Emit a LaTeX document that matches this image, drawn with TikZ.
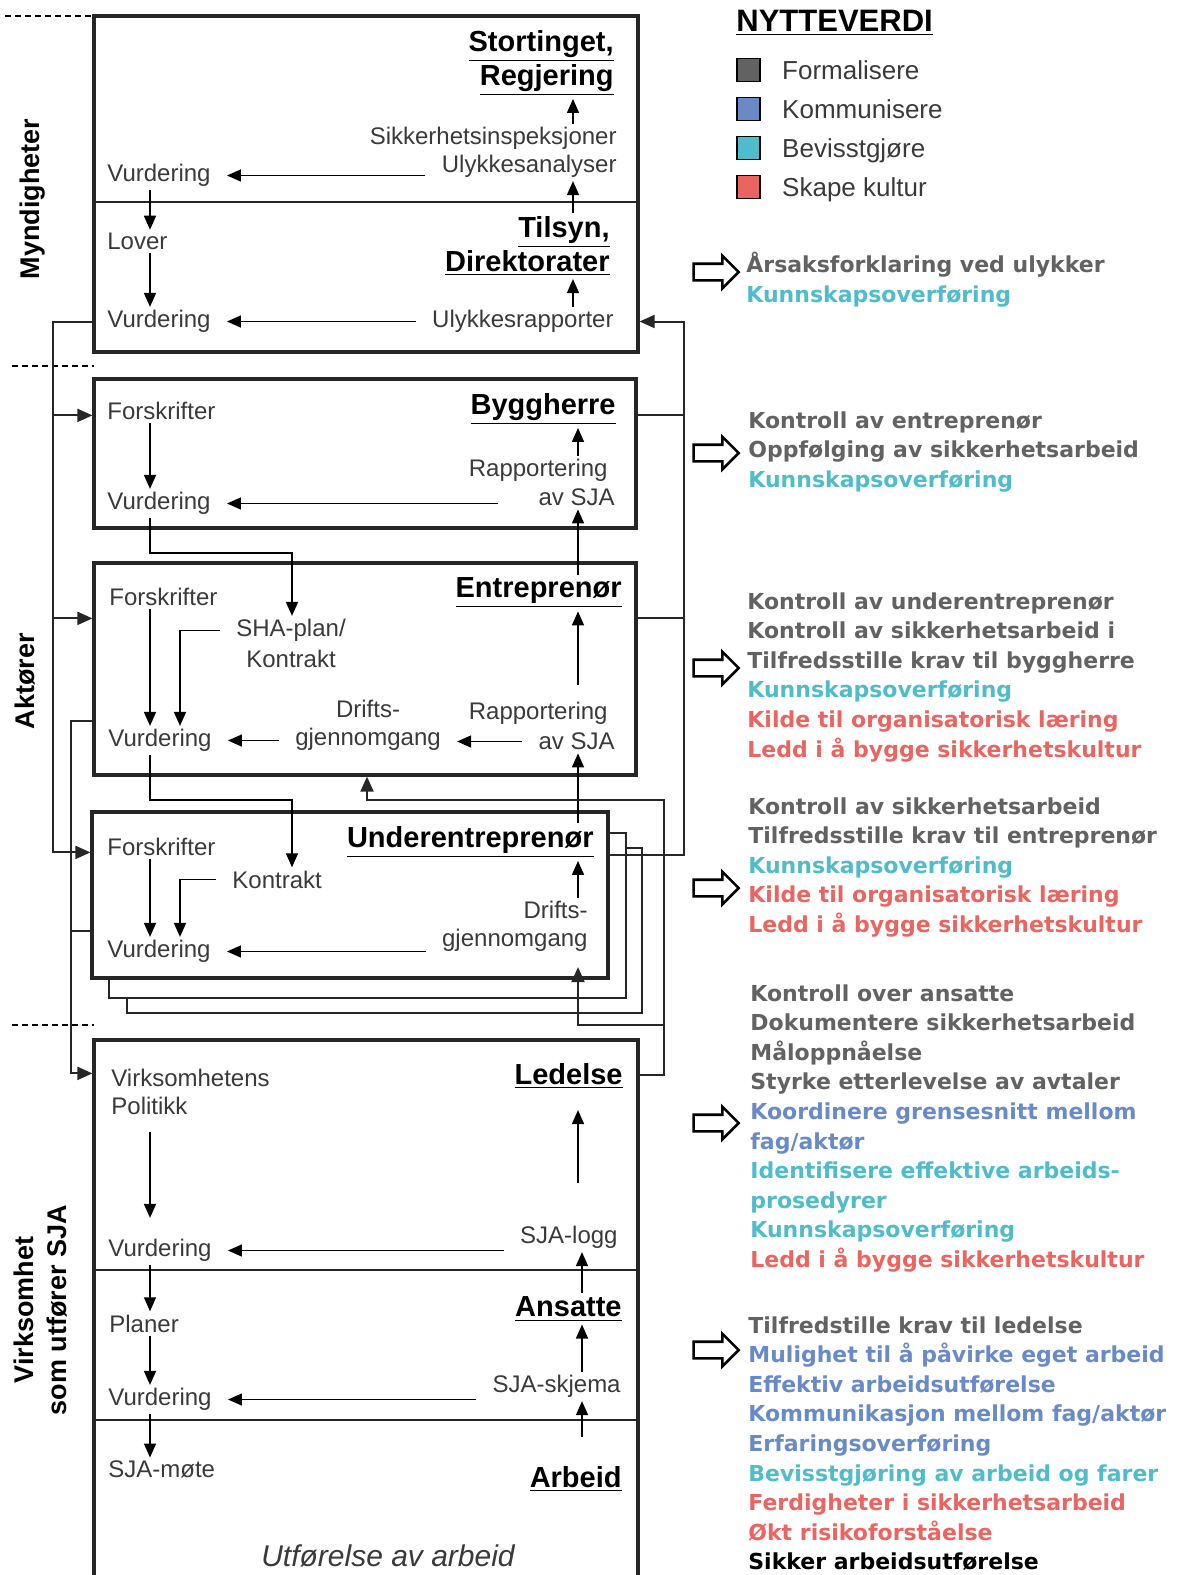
\documentclass[tikz,border=0pt]{standalone}
\usepackage{fontspec}
\setmainfont{Liberation Sans}
\newfontfamily\benefitfont{DejaVu Sans}
\usetikzlibrary{arrows.meta,positioning,calc,shapes.arrows}
\definecolor{valGray}{RGB}{98,98,98}
\definecolor{valBlue}{RGB}{104,138,198}
\definecolor{valTeal}{RGB}{78,188,202}
\definecolor{valRed}{RGB}{234,100,96}
\definecolor{inkDark}{RGB}{58,58,58}
\tikzset{
  frame/.style={draw=black!85,line width=1.6pt,fill=white,inner sep=0pt},
  frame shadow/.style={draw=black!85,line width=1pt,fill=white,inner sep=0pt},
  divider/.style={draw=black!85,line width=1pt},
  flow text/.style={text=inkDark,font=\fontsize{12}{14}\selectfont,inner xsep=8pt,inner ysep=1.5pt,yshift=-1.75pt},
  title text/.style={text=black,font=\bfseries\fontsize{14.5}{17}\selectfont,inner xsep=8pt,inner ysep=1.5pt,align=right,yshift=-3.5pt},
  flow arrow/.style={-{Triangle[length=7pt,width=6pt]},line width=0.8pt},
  link line/.style={draw=black!85,line width=1pt},
  link arrow/.style={link line,-{Triangle[length=7.5pt,width=6.5pt]}},
  side text/.style={font=\bfseries\fontsize{13.5}{16.5}\selectfont,rotate=90,align=center},
  benefit/.style={font=\benefitfont\bfseries\fontsize{11}{14.8}\selectfont,text=valGray,align=left,inner sep=0pt,anchor=north west},
  key box/.style={draw=black,line width=0.8pt,minimum size=11.5pt,inner sep=0pt},
  key text/.style={font=\fontsize{13}{15}\selectfont,text=inkDark,inner sep=0pt,text height=9.5pt,text depth=0pt},
  hollow arrow/.style={single arrow,draw=black,line width=1.3pt,fill=white,minimum height=22.5pt,inner xsep=0pt,inner ysep=3.5pt,single arrow head extend=4pt},
  section rule/.style={dash pattern=on 3pt off 2pt,line width=0.6pt}
}
\begin{document}
\begin{tikzpicture}[x=0.5pt,y=-0.5pt]
\useasboundingbox (0,0) rectangle (1185,1575);
\coordinate (colL) at (150,0);
\coordinate (colL2) at (180,0);
\coordinate (colK) at (292,0);
\coordinate (colD) at (367,0);
\coordinate (colM) at (573,0);
\coordinate (colR) at (578,0);
\coordinate (colR2) at (582,0);
\coordinate (busA) at (53,0);
\coordinate (busB) at (71,0);
\coordinate (busD) at (664,0);
\coordinate (busC) at (684,0);
\coordinate (divA) at (0,202);
\coordinate (divB) at (0,1270);
\coordinate (divC) at (0,1420);

% levels
\draw[section rule] (5,16) -- (94,16);
\draw[section rule] (12,366) -- (94,366);
\draw[section rule] (12,1025) -- (94,1025);
\node[side text] (sideMyn) at (33,199) {Myndigheter};
\node[side text] (sideAkt) at (25,681) {Aktører};
\node[side text] (sideVirk) at (41,1310) {Virksomhet\\som utfører SJA};

% boxes
\node[frame,minimum width=272pt,minimum height=168pt] (myn) at (366,184) {};
\node[frame,minimum width=271pt,minimum height=74.5pt] (bygg) at (365,453.5) {};
\node[frame,minimum width=271pt,minimum height=106pt] (entr) at (365,669) {};
\node[frame shadow,minimum width=257.5pt,minimum height=82.5pt] (underB) at (384.5,930.5) {};
\node[frame shadow,minimum width=258.5pt,minimum height=82.5pt] (underA) at (367.5,915.5) {};
\node[frame,minimum width=258pt,minimum height=83pt] (under) at (350,895) {};
\node[frame,minimum width=272pt,minimum height=290pt] (virk) at (366,1330) {};
\draw[divider] (myn.west |- divA) -- (myn.east |- divA);
\draw[divider] (virk.west |- divB) -- (virk.east |- divB);
\draw[divider] (virk.west |- divC) -- (virk.east |- divC);

\coordinate (byggIn) at ($(bygg.north west)+(0,38)$);
\coordinate (entrIn) at ($(entr.north west)+(0,57)$);
\coordinate (underIn) at ($(under.north west)+(0,42)$);
\coordinate (entrOut) at ($(entr.north west)+(0,160)$);
\coordinate (underOut) at ($(under.north west)+(0,121)$);
\coordinate (underRight) at ($(under.north east)+(0,45)$);
\coordinate (virkIn) at ($(virk.north west)+(0,35)$);
\coordinate (ledOut) at ($(virk.north east)+(0,37)$);
\coordinate (ledTurn) at ($(entr.south)+(0,23)$);
\coordinate (ledFork) at ($(virk.north)+(0,-13)$);

% Myndigheter
\node[title text,anchor=east] (stort) at (630,56) {\underline{Stortinget,}\\\underline{Regjering}};
\node[flow text,anchor=east] (sikk) at (633,135) {Sikkerhetsinspeksjoner};
\node[flow text,anchor=east] (ulykA) at (633,163) {Ulykkesanalyser};
\node[flow text,anchor=west] (vurdA) at (91,172) {Vurdering};
\node[flow text,anchor=west] (lover) at (91,238) {Lover};
\node[title text,anchor=east] (tilsyn) at (626,239) {\underline{Tilsyn,}\\\underline{Direktorater}};
\node[flow text,anchor=east] (ulykR) at (630,318) {Ulykkesrapporter};
\node[flow text,anchor=west] (vurdB) at (91,318) {Vurdering};
\draw[flow arrow] (sikk.north -| colM) -- (stort.south -| colM);
\draw[flow arrow] (tilsyn.north -| colM) -- (ulykA.south -| colM);
\draw[flow arrow] (ulykR.north -| colM) -- (tilsyn.south -| colM);
\draw[flow arrow] (ulykA.west |- vurdA) -- (vurdA.east);
\draw[flow arrow] (ulykR.west) -- (vurdB.east);
\draw[flow arrow] (vurdA.south -| colL) -- (lover.north -| colL);
\draw[flow arrow] (lover.south -| colL) -- (vurdB.north -| colL);

% Byggherre
\node[title text,anchor=east] (byggT) at (632,402) {\underline{Byggherre}};
\node[flow text,anchor=west] (forskB) at (91,407) {Forskrifter};
\node[flow text,anchor=east] (rapB1) at (624,467) {Rapportering};
\node[flow text,anchor=east] (rapB2) at (631,494) {av SJA};
\node[flow text,anchor=west] (vurdC) at (91,500) {Vurdering};
\draw[flow arrow] (forskB.south -| colL) -- (vurdC.north -| colL);
\draw[flow arrow] (rapB1.north -| colR) -- (byggT.south -| colR);
\draw[flow arrow,shorten <=12pt] (rapB2.west |- vurdC) -- (vurdC.east);

% Entreprenor
\node[title text,anchor=east] (entrT) at (638,586) {\underline{Entreprenør}};
\node[flow text,anchor=west] (forskE) at (93,593) {Forskrifter};
\node[flow text] (shaA) at (291,627) {SHA-plan/};
\node[flow text] (shaB) at (291,655) {Kontrakt};
\node[flow text,align=center] (drifE) at (368,722) {Drifts-\\gjennomgang};
\node[flow text,anchor=east] (rapE1) at (624,710) {Rapportering};
\node[flow text,anchor=east] (rapE2) at (631,738) {av SJA};
\node[flow text,anchor=west] (vurdE) at (92,737) {Vurdering};
\draw[flow arrow] (forskE.south -| colL) -- (vurdE.north -| colL);
\draw[flow arrow] (shaA.west) -| (vurdE.north -| colL2);
\draw[flow arrow] (drifE.west |- vurdE) -- (vurdE.east);
\draw[flow arrow] (rapE2.west) -- (drifE.east |- rapE2);
\draw[flow arrow,shorten <=7pt] (rapE1.north -| colR) -- (entrT.south -| colR);
\draw[flow arrow] (entrT.north -| colR) -- (rapB2.south -| colR);
\draw[flow arrow] (vurdC.south -| colL) -- ++(0,35) -| (shaA.north -| colK);

% Underentreprenor
\node[title text,anchor=east] (underT) at (610,835) {\underline{Underentreprenør}};
\node[flow text,anchor=west] (forskU) at (91,843) {Forskrifter};
\node[flow text,anchor=west] (kontU) at (216,876) {Kontrakt};
\node[flow text,anchor=east,align=right] (drifU) at (604,923) {Drifts-\\gjennomgang};
\node[flow text,anchor=west] (vurdU) at (91,948) {Vurdering};
\draw[flow arrow] (forskU.south -| colL) -- (vurdU.north -| colL);
\draw[flow arrow] (kontU.west) -| (vurdU.north -| colL2);
\draw[flow arrow] (drifU.west |- vurdU) -- (vurdU.east);
\draw[flow arrow] (drifU.north -| colR) -- (underT.south -| colR);
\draw[flow arrow] (underT.north -| colR) -- (rapE2.south -| colR);
\draw[flow arrow] (vurdE.south -| colL) -- ++(0,45) -| (kontU.north -| colK);

% Virksomhet
\node[title text,anchor=east] (ledT) at (639,1069) {\underline{Ledelse}};
\node[flow text,anchor=west,align=left] (politikk) at (95,1088) {Virksomhetens\\Politikk};
\node[flow text,anchor=west] (vurdV) at (92,1247) {Vurdering};
\node[flow text,anchor=east] (sjaLogg) at (634,1234) {SJA-logg};
\node[title text,anchor=east] (ansT) at (638,1302) {\underline{Ansatte}};
\node[flow text,anchor=west] (planer) at (93,1320) {Planer};
\node[flow text,anchor=west] (vurdW) at (92,1396) {Vurdering};
\node[flow text,anchor=east] (sjaSkj) at (637,1383) {SJA-skjema};
\node[title text,anchor=east] (arbT) at (638,1472) {\underline{Arbeid}};
\node[flow text,anchor=west] (sjaMote) at (92,1466) {SJA-møte};
\node[flow text,font=\itshape\fontsize{15}{18}\selectfont] (utf) at (388,1552) {Utførelse av arbeid};
\draw[flow arrow,shorten <=7pt,shorten >=9pt] (politikk.south -| colL) -- (vurdV.north -| colL);
\draw[flow arrow] (sjaLogg.west |- vurdV) -- (vurdV.east);
\draw[flow arrow,shorten <=20pt,shorten >=9pt] (sjaLogg.north -| colR) -- (ledT.south -| colR);
\draw[flow arrow] (ansT.north -| colR2) -- (sjaLogg.south -| colR2);
\draw[flow arrow] (vurdV.south -| colL) -- (planer.north -| colL);
\draw[flow arrow] (planer.south -| colL) -- (vurdW.north -| colL);
\draw[flow arrow] (sjaSkj.west |- vurdW) -- (vurdW.east);
\draw[flow arrow] (sjaSkj.north -| colR2) -- (ansT.south -| colR2);
\draw[flow arrow,shorten <=13pt] (arbT.north -| colR2) -- (sjaSkj.south -| colR2);
\draw[flow arrow] (vurdW.south -| colL) -- (sjaMote.north -| colL);

% feedback lines
\draw[link arrow] (myn.west |- vurdB) -| (busA |- underIn) -- (underIn);
\draw[link arrow] (busA |- byggIn) -- (byggIn);
\draw[link arrow] (busA |- entrIn) -- (entrIn);
\draw[link arrow] (entrOut) -| (busB |- virkIn) -- (virkIn);
\draw[link line] (underOut) -- (busB |- underOut);
\draw[link arrow] (underRight) -| (busC |- ulykR) -- (myn.east |- ulykR);
\draw[link line] (bygg.east |- byggIn) -- (busC |- byggIn);
\draw[link line] (entr.east |- entrIn) -- (busC |- entrIn);
\draw[link arrow] (ledOut) -| (busD |- ledTurn) -| (colD |- entr.south);
\draw[link arrow,shorten >=6pt] (busD |- ledFork) -| (drifU.south -| colR);

% nytteverdi
\node[font=\bfseries\fontsize{15.5}{18}\selectfont,anchor=west,inner sep=0pt] (nyTitle) at (736,23) {\underline{NYTTEVERDI}};
\node[key box,fill=valGray] (keyForm) at (748.5,70) {};
\node[key box,fill=valBlue] (keyKomm) at (748.5,109) {};
\node[key box,fill=valTeal] (keyBev) at (748.5,148) {};
\node[key box,fill=valRed] (keyKult) at (748.5,187) {};
\node[key text,right=10.5pt of keyForm] (txtForm) {Formalisere};
\node[key text,right=10.5pt of keyKomm] (txtKomm) {Kommunisere};
\node[key text,right=10.5pt of keyBev] (txtBev) {Bevisstgjøre};
\node[key text,right=10.5pt of keyKult] (txtKult) {Skape kultur};

\node[hollow arrow] (pilMyn) at (712,272) {};
\node[hollow arrow] (pilBygg) at (712,453) {};
\node[hollow arrow] (pilEntr) at (712,668) {};
\node[hollow arrow] (pilUnder) at (712,888) {};
\node[hollow arrow] (pilLed) at (712,1123) {};
\node[hollow arrow] (pilAns) at (712,1350) {};

\node[benefit] (valMyn) at (746,252) {Årsaksforklaring ved ulykker\\\textcolor{valTeal}{Kunnskapsoverføring}};
\node[benefit] (valBygg) at (748,411) {Kontroll av entreprenør\\Oppfølging av sikkerhetsarbeid\\\textcolor{valTeal}{Kunnskapsoverføring}};
\node[benefit] (valEntr) at (747,592) {Kontroll av underentreprenør\\Kontroll av sikkerhetsarbeid i\\Tilfredsstille krav til byggherre\\\textcolor{valTeal}{Kunnskapsoverføring}\\\textcolor{valRed}{Kilde til organisatorisk læring}\\\textcolor{valRed}{Ledd i å bygge sikkerhetskultur}};
\node[benefit] (valUnder) at (748,797) {Kontroll av sikkerhetsarbeid\\Tilfredsstille krav til entreprenør\\\textcolor{valTeal}{Kunnskapsoverføring}\\\textcolor{valRed}{Kilde til organisatorisk læring}\\\textcolor{valRed}{Ledd i å bygge sikkerhetskultur}};
\node[benefit] (valLed) at (750,984) {Kontroll over ansatte\\Dokumentere sikkerhetsarbeid\\Måloppnåelse\\Styrke etterlevelse av avtaler\\\textcolor{valBlue}{Koordinere grensesnitt mellom}\\\textcolor{valBlue}{fag/aktør}\\\textcolor{valTeal}{Identifisere effektive arbeids-}\\\textcolor{valTeal}{prosedyrer}\\\textcolor{valTeal}{Kunnskapsoverføring}\\\textcolor{valRed}{Ledd i å bygge sikkerhetskultur}};
\node[benefit] (valAns) at (748,1316) {Tilfredstille krav til ledelse\\\textcolor{valBlue}{Mulighet til å påvirke eget arbeid}\\\textcolor{valBlue}{Effektiv arbeidsutførelse}\\\textcolor{valBlue}{Kommunikasjon mellom fag/aktør}\\\textcolor{valBlue}{Erfaringsoverføring}\\\textcolor{valTeal}{Bevisstgjøring av arbeid og farer}\\\textcolor{valRed}{Ferdigheter i sikkerhetsarbeid}\\\textcolor{valRed}{Økt risikoforståelse}\\\textcolor{black}{Sikker arbeidsutførelse}};
\end{tikzpicture}
\end{document}
